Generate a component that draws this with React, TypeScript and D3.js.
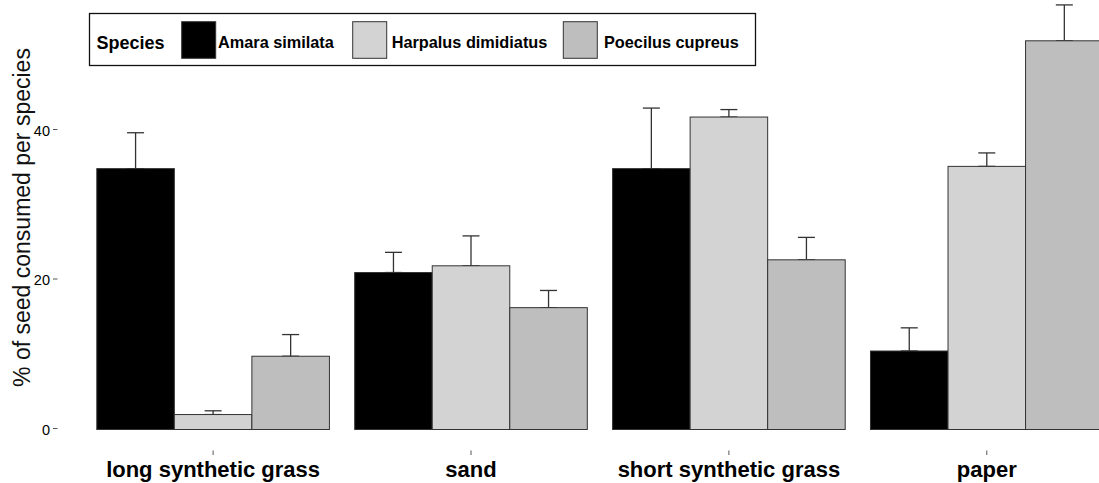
import React, {useEffect, useRef} from "react";
import * as d3 from "d3";

const surfaces = ["long synthetic grass", "sand", "short synthetic grass", "paper"];
const species = ["Amara similata", "Harpalus dimidiatus", "Poecilus cupreus"];
const speciesColors = ["#000000", "#d3d3d3", "#bebebe"];

// mean % consumed, per surface, in species order
const meanValues = [
    [34.9, 2.0, 9.8],
    [21.0, 21.9, 16.3],
    [34.9, 41.8, 22.7],
    [10.5, 35.2, 52.0],
];
// upper end of the error bar
const upperValues = [
    [39.7, 2.5, 12.7],
    [23.7, 25.9, 18.6],
    [43.0, 42.8, 25.7],
    [13.6, 37.0, 56.8],
];
const yTicks = [0, 20, 40];

const FONT = "'Liberation Sans', Arial, Helvetica, sans-serif";

function App() {
    const svgRef = useRef<SVGSVGElement>(null);
    const width = 1099;
    const height = 483;

    useEffect(() => {
        const svg = d3.select(svgRef.current);
        svg.selectAll("*").remove();

        const xScale = d3.scaleBand()
            .domain(surfaces)
            .range([96.8, 1103.1])
            .paddingInner(0.098)
            .paddingOuter(0);

        const inner = d3.scaleBand()
            .domain(species)
            .range([0, xScale.bandwidth()])
            .padding(0);

        const yScale = d3.scaleLinear()
            .domain([0, 40])
            .range([429.5, 130.5]);

        const colorScale = d3.scaleOrdinal<string, string>()
            .domain(species)
            .range(speciesColors);

        // bars + error bars
        surfaces.forEach((surf, gi) => {
            const g = svg.append("g").attr("transform", `translate(${xScale(surf)},0)`);
            species.forEach((sp, si) => {
                const x0 = inner(sp)!;
                const v = meanValues[gi][si];
                const up = upperValues[gi][si];
                const cx = x0 + inner.bandwidth() / 2;

                g.append("line")
                    .attr("x1", cx).attr("x2", cx)
                    .attr("y1", yScale(v)).attr("y2", yScale(up))
                    .attr("stroke", "#333").attr("stroke-width", 1.3);
                [v, up].forEach(end => {
                    g.append("line")
                        .attr("x1", cx - 8.5).attr("x2", cx + 8.5)
                        .attr("y1", yScale(end)).attr("y2", yScale(end))
                        .attr("stroke", "#333").attr("stroke-width", 1.3);
                });

                g.append("rect")
                    .attr("x", x0)
                    .attr("y", yScale(v))
                    .attr("width", inner.bandwidth())
                    .attr("height", yScale(0) - yScale(v))
                    .attr("fill", colorScale(sp))
                    .attr("stroke", "#333")
                    .attr("stroke-width", 1);
            });

            // category tick + label
            const mid = xScale.bandwidth() / 2;
            g.append("line")
                .attr("x1", mid).attr("x2", mid)
                .attr("y1", 450.5).attr("y2", 455)
                .attr("stroke", "#555").attr("stroke-width", 1);
            g.append("text")
                .attr("x", mid)
                .attr("y", 477)
                .attr("text-anchor", "middle")
                .attr("font-family", FONT)
                .attr("font-weight", "bold")
                .attr("font-size", "22px")
                .text(surf);
        });

        // y axis: labels and small ticks, no axis line
        const yAxis = svg.append("g");
        yTicks.forEach(t => {
            yAxis.append("text")
                .attr("x", 50)
                .attr("y", yScale(t))
                .attr("dy", "0.35em")
                .attr("text-anchor", "end")
                .attr("font-family", FONT)
                .attr("font-size", "14.5px")
                .text(t);
            yAxis.append("line")
                .attr("x1", 53).attr("x2", 57.5)
                .attr("y1", yScale(t) - 1).attr("y2", yScale(t) - 1)
                .attr("stroke", "#555").attr("stroke-width", 1);
        });

        svg.append("text")
            .attr("transform", "translate(30,217.5) rotate(-90)")
            .attr("text-anchor", "middle")
            .attr("font-family", FONT)
            .attr("font-size", "23px")
            .attr("fill", "#111")
            .text("% of seed consumed per species");

        // legend
        const legend = svg.append("g");
        legend.append("rect")
            .attr("x", 89.5).attr("y", 13.5)
            .attr("width", 666).attr("height", 52)
            .attr("fill", "white")
            .attr("stroke", "#111")
            .attr("stroke-width", 1.3);
        legend.append("text")
            .attr("x", 96.5).attr("y", 49)
            .attr("font-family", FONT)
            .attr("font-weight", "bold")
            .attr("font-size", "18px")
            .text("Species");

        const squareX = [181.7, 352.7, 563.3];
        const labelX = [218, 391.7, 604];
        species.forEach((sp, i) => {
            legend.append("rect")
                .attr("x", squareX[i]).attr("y", 21.7)
                .attr("width", 34).attr("height", 36.6)
                .attr("fill", colorScale(sp))
                .attr("stroke", "#333")
                .attr("stroke-width", 1);
            legend.append("text")
                .attr("x", labelX[i]).attr("y", 48)
                .attr("font-family", FONT)
                .attr("font-weight", "bold")
                .attr("font-size", "16.3px")
                .text(sp);
        });
    }, []);

    return (
        <svg
            ref={svgRef}
            width={width}
            height={height}
            style={{position: "absolute", left: 0, top: 0, background: "white"}}
        ></svg>
    );
}

export default App;
